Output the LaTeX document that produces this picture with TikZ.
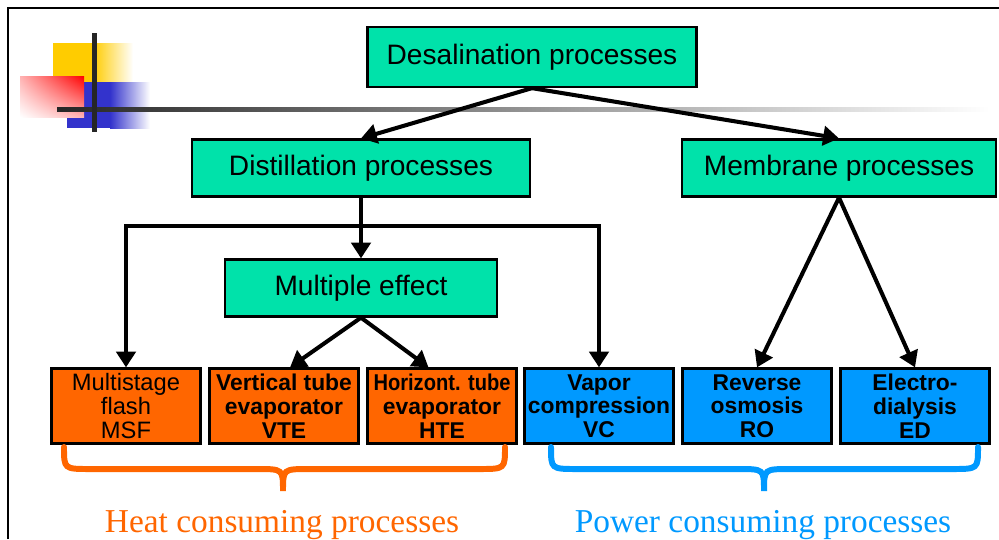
\documentclass[tikz,border=0pt]{standalone}
\usepackage{fontspec}
\setmainfont{Liberation Serif}
\setsansfont{Liberation Sans}
\usetikzlibrary{arrows.meta,shadings}
\definecolor{boxgreen}{RGB}{0,226,170}
\definecolor{heatorange}{RGB}{255,102,0}
\definecolor{powerblue}{RGB}{0,153,255}
\definecolor{logoyellow}{RGB}{255,204,0}
\definecolor{logoblue}{RGB}{51,51,204}
\tikzset{
  procbox/.style={draw, line width=1.3pt, fill=boxgreen, inner sep=0pt, minimum height=1.14cm,
    font=\sffamily\fontsize{16}{18}\selectfont},
  heatbox/.style={draw, line width=1.3pt, fill=heatorange, inner sep=0pt, minimum width=2.98cm,
    minimum height=1.5cm, align=center, font=\sffamily\bfseries\fontsize{13}{13.5}\selectfont},
  powerbox/.style={heatbox, fill=powerblue},
  arr/.style={draw, line width=2.3pt, -{Triangle[width=11pt,length=9pt]}},
  bracket/.style={line width=3.4pt, line cap=round},
}
\begin{document}
\begin{tikzpicture}[x=0.02cm, y=-0.02cm]
    \useasboundingbox (0,0) rectangle (999,539);
    % frame and logo
    \draw[line width=1.6pt] (8,539) -- (8,8) -- (999,8);
    \fill[logoyellow] (53,43) rectangle (93,82);
    \shade[left color=logoyellow, right color=white] (93,43) rectangle (133,82);
    \fill[logoblue] (67,82) rectangle (110,128);
    \shade[left color=logoblue, right color=white] (110,82) rectangle (150,128);
    \shade[upper right=red, upper left=red!30, lower right=red!30, lower left=white] (20,76) rectangle (84,117);
    \shade[left color=black!85, right color=white] (57,107) rectangle (990,111);
    \fill[black!85] (92,33) rectangle (97,132);
    % process boxes
    \node[procbox, minimum width=6.58cm, minimum height=1.2cm] (des) at (532,57) {Desalination processes};
    \node[procbox, minimum width=6.76cm] (dist) at (361,168) {Distillation processes};
    \node[procbox, minimum width=6.28cm] (memb) at (839,168) {Membrane processes};
    \node[procbox, minimum width=5.44cm] (multi) at (361,288) {Multiple effect};
    \node[heatbox, font=\sffamily\fontsize{13.5}{13.5}\selectfont] (msf) at (126,406) {Multistage\\flash\\MSF};
    \node[heatbox] (vte) at (284,406) {Vertical tube\\evaporator\\VTE};
    \node[heatbox] (hte) at (442,406) {\scalebox{0.88}[1]{Horizont. tube}\\evaporator\\HTE};
    \node[powerbox] (vc) at (599,406) {Vapor\\compression\\VC};
    \node[powerbox] (ro) at (757,406) {Reverse\\osmosis\\RO};
    \node[powerbox] (ed) at (915,406) {Electro-\\dialysis\\ED};
    % connectors
    \path (des.south) edge[arr] (dist.north);
    \path (des.south) edge[arr] (memb.north);
    \path (dist.south) edge[arr] (multi.north);
    \coordinate (split) at (361,226);
    \draw[arr] (split) -| (msf.north);
    \draw[arr] (split) -| (vc.north);
    \path (multi.south) edge[arr] ([xshift=0.12cm]vte.north);
    \path (multi.south) edge[arr] ([xshift=-0.27cm]hte.north);
    \path (memb.south) edge[arr] (ro.north);
    \path (memb.south) edge[arr] (ed.north);
    % braces
    \draw[bracket, heatorange] (64,447) .. controls (64,469) .. (90,469) -- (257,469)
        .. controls (283,469) .. (283,491) .. controls (283,469) .. (309,469) -- (479,469)
        .. controls (505,469) .. (505,447);
    \draw[bracket, powerblue] (551,447) .. controls (551,469) .. (577,469) -- (738,469)
        .. controls (764,469) .. (764,491) .. controls (764,469) .. (790,469) -- (952,469)
        .. controls (978,469) .. (978,447);
    \node[anchor=base, text=heatorange, font=\fontsize{19}{22}\selectfont] (heat) at (282,532) {Heat consuming processes};
    \node[anchor=base, text=powerblue, font=\fontsize{19}{22}\selectfont] (power) at (763,532) {Power consuming processes};
\end{tikzpicture}
\end{document}
